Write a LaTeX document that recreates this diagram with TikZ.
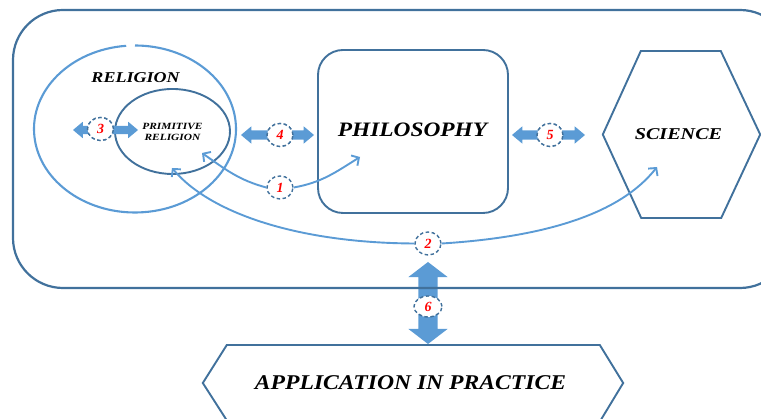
\documentclass[tikz,border=0pt]{standalone}
\usepackage{fontspec}
\usepackage{graphicx}
\setmainfont{Liberation Serif}
\usetikzlibrary{arrows.meta,shapes.geometric,shapes.arrows,calc}
\definecolor{lblue}{HTML}{5B9BD5}
\definecolor{dblue}{HTML}{41719C}
\newcommand{\myxs}[2]{\scalebox{#1}[1]{#2}}
\begin{document}
\begin{tikzpicture}[x=1pt,y=1pt,
  lab/.style={font=\bfseries\itshape, text=black, inner sep=0pt},
  num/.style={ellipse, draw=dblue, dash pattern=on 3.5pt off 2.5pt, fill=white, line width=1.4pt,
    minimum width=26pt, minimum height=23pt, inner sep=0pt,
    font=\bfseries\itshape\fontsize{14}{14}\selectfont, text=red},
  conn/.style={draw=lblue, line width=1.9pt, -{Straight Barb[length=5.5pt,width=12pt]}},
  fat/.style n args={4}{double arrow, fill=lblue, draw=none, inner xsep=0pt,
    minimum height=#1, minimum width=#2, inner ysep=#3, double arrow head extend=#4},
  shapeline/.style={draw=dblue, line width=1.9pt}
]
\useasboundingbox (0,0) rectangle (761,419);
\clip (0,0) rectangle (761,419);

% vertical fat arrow 6 (behind frame line)
\node[fat={82pt}{39pt}{9.5pt}{10pt}, double arrow tip angle=105, rotate=90] (a6) at (428,116) {};

% outer frame
\node[draw=dblue, line width=2.2pt, rounded corners=50pt, minimum width=777pt, minimum height=278pt] (frame) at (401.5,270) {};

% religion
\node[ellipse, minimum width=202pt, minimum height=167pt] (religion) at (135,290) {};
\draw[draw=lblue, line width=2.1pt] ($(religion.center)+(95:101 and 83.5)$) arc[start angle=95, end angle=450, x radius=101, y radius=83.5];
\node[lab, font=\bfseries\itshape\fontsize{15}{15}\selectfont] (religionlabel) at (135.5,341) {\myxs{1.2}{RELIGION}};

% primitive religion
\node[ellipse, shapeline, minimum width=115pt, minimum height=85pt, align=center,
  font=\bfseries\itshape\fontsize{9.5}{11}\selectfont] (primitive) at (172.5,287.5) {\myxs{1.2}{PRIMITIVE}\\\myxs{1.2}{RELIGION}};

% philosophy
\node[shapeline, rounded corners=25pt, minimum width=190pt, minimum height=163pt] (philosophy) at (413,287.5) {};
\node[lab, font=\bfseries\itshape\fontsize{20.5}{20.5}\selectfont] (philosophylabel) at (412.5,289) {\myxs{1.14}{PHILOSOPHY}};

% science
\node[minimum width=157pt, minimum height=167pt] (science) at (681.5,284.5) {};
\draw[shapeline] (science.west) -- ++(38,83.5) -- ++(80,0) -- (science.east) -- ++(-39,-83.5) -- ++(-80,0) -- cycle;
\node[lab, font=\bfseries\itshape\fontsize{16.5}{16.5}\selectfont] (sciencelabel) at (678.5,284.5) {\myxs{1.22}{SCIENCE}};

% application in practice
\node[minimum width=420pt, minimum height=76pt] (application) at (413,36) {};
\draw[shapeline] (application.west) -- ++(24,38) -- ++(373,0) -- (application.east) -- ++(-23,-38) -- ++(-373,0) -- cycle;
\node[lab, font=\bfseries\itshape\fontsize{21}{21}\selectfont] (applicationlabel) at (410.5,36) {\myxs{1.125}{APPLICATION IN PRACTICE}};

% number badges
\node[num] (c1) at (280,231.5) {1};
\node[num] (c2) at (428,175.5) {2};
\node[num] (c3) at (100.5,290) {3};
\node[num] (c4) at (280,284) {4};
\node[num] (c5) at (550,284) {5};

% connector tips
\coordinate (t1a) at (202,266);
\coordinate (t1b) at (360,262);
\coordinate (t2a) at (172,251);
\coordinate (t2b) at (657,252);

% curved connectors
\draw[conn] (c1.west) to[out=165,in=-35] (t1a);
\draw[conn] (c1.east) to[out=10,in=212] (t1b);
\draw[conn] (c2.west) .. controls (300,176) and (210.6,205) .. (t2a);
\draw[conn] (c2.east) .. controls (545,182) and (620,205) .. (t2b);

% fat double arrows
\node[fat={65pt}{16pt}{4pt}{4pt}, double arrow tip angle=80] (a3) at (105.5,289) {};
\node[fat={73pt}{17pt}{4.5pt}{4pt}, double arrow tip angle=80] (a4) at (277.5,284) {};
\node[fat={73pt}{17pt}{4.5pt}{4pt}, double arrow tip angle=80] (a5) at (548.5,284) {};

% badges on top of arrows
\node[num] at (c3) {3};
\node[num] at (c4) {4};
\node[num] at (c5) {5};
\node[num, minimum width=28pt, minimum height=21pt] (c6) at (428,112.5) {6};
\end{tikzpicture}
\end{document}
